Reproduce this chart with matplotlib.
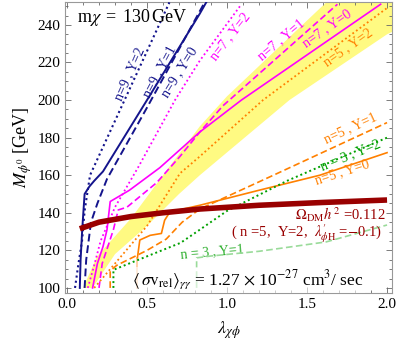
import matplotlib
matplotlib.use('Agg')
import matplotlib.pyplot as plt
import numpy as np
from matplotlib.ticker import MultipleLocator

plt.rcParams['font.family'] = ['Liberation Serif', 'DejaVu Serif']
plt.rcParams['mathtext.fontset'] = 'stix'

#Colours
navy = '#14148C'
mag = '#FF00FF'
orange = '#FF8000'
green = '#00A000'
lgreen = '#9ADB9A'
lorange = '#FFC896'
dred = '#990000'
yellow = '#FFFA82'

#Yellow band (n=5, Y=2 with varying lambda'_phiH)
band_up_x = [0.10, 0.19, 0.40, 0.60, 0.83, 1.00, 1.62, 2.05]
band_up_y = [100, 117, 137, 160, 186, 202, 252, 252]
band_lo_x = [0.16, 0.30, 0.50, 0.70, 0.83, 1.39, 2.00, 2.05]
band_lo_y = [100, 118, 133, 150, 160, 200, 235, 237]

#n=9 curves
n9y0_x = [0.08, 0.085, 0.095, 0.11, 0.14, 0.17, 0.225, 0.50, 0.83, 0.87]
n9y0_y = [100, 115, 131, 150, 154, 157, 162, 200, 246, 252]
n9y1_x = [0.11, 0.12, 0.15, 0.19, 0.25, 0.50, 0.86]
n9y1_y = [100, 115, 135, 145, 158, 196, 252]
n9y2_x = [0.05, 0.07, 0.094, 0.11, 0.144, 0.64]
n9y2_y = [100, 112, 125, 141, 160, 252]

#n=7 curves
n7y0_x = [0.16, 0.19, 0.225, 0.25, 0.27, 0.32, 0.39, 0.58, 0.83, 1.09, 1.96]
n7y0_y = [100, 113, 122, 131, 146, 148.5, 152, 164, 183, 200, 251]
n7y1_x = [0.20, 0.22, 0.29, 0.32, 0.375, 0.56, 0.706, 0.83, 0.975, 1.69]
n7y1_y = [100, 113, 131, 141.5, 143, 156, 170, 183, 197, 251]
n7y2_x = [0.13, 0.17, 0.21, 0.30, 0.45, 0.675, 0.83, 1.09]
n7y2_y = [100, 112, 125, 143, 165, 200, 221, 251]

#n=5 curves
n5y2_x = [0.17, 0.30, 0.50, 0.706, 0.83, 1.225, 2.00]
n5y2_y = [100, 113, 133, 161, 170, 200, 249]
n5y1_x = [0.27, 0.27, 0.31, 0.50, 0.62, 0.72, 0.83, 1.29, 2.00]
n5y1_y = [100, 109, 112, 120, 126, 135, 142, 160, 188]
n5y0_stub_x = [0.44, 0.44]
n5y0_stub_y = [100, 116]
n5y0_x = [0.44, 0.455, 0.52, 0.59, 0.61, 0.625, 0.64, 0.70, 0.83, 1.20, 1.58, 2.00]
n5y0_y = [116, 125.5, 128, 129, 136, 138, 140, 141.5, 144, 152, 160, 172]

#n=3 curves
n3y2_x = [0.29, 0.29, 0.33, 0.52, 0.71, 0.83, 1.00, 1.375, 2.00]
n3y2_y = [100, 109.6, 111, 117.5, 124, 131, 141, 157, 180]
n3y1_x = [0.81, 0.81, 0.90, 1.20, 1.62, 2.00]
n3y1_y = [100, 116, 117, 119.5, 124.5, 133.5]

#Relic density line
relic_x = [0.08, 0.20, 0.40, 0.60, 0.83, 1.20, 1.60, 2.00]
relic_y = [131.5, 135, 138, 140, 142, 144, 145.5, 146.8]

fig = plt.figure(figsize=(3.99, 3.5), dpi=100)
ax = fig.add_axes([65/399, 1-293/350, 327/399, 291/350])

#Band polygon
bx = band_up_x + band_lo_x[::-1]
by = band_up_y + band_lo_y[::-1]
ax.fill(bx, by, color=yellow, lw=0, zorder=1)

ax.plot(n9y0_x, n9y0_y, color=navy, lw=1.4, zorder=3)
ax.plot(n9y1_x, n9y1_y, color=navy, lw=1.4, ls=(0, (4, 2)), zorder=3)
ax.plot(n9y2_x, n9y2_y, color=navy, lw=1.5, ls=(0, (1, 1.5)), zorder=3)

ax.plot(n7y0_x, n7y0_y, color=mag, lw=1.2, zorder=3)
ax.plot(n7y1_x, n7y1_y, color=mag, lw=1.2, ls=(0, (4, 2)), zorder=3)
ax.plot(n7y2_x, n7y2_y, color=mag, lw=1.3, ls=(0, (1, 1.5)), zorder=3)

ax.plot(n5y2_x, n5y2_y, color=orange, lw=1.3, ls=(0, (1, 1.5)), zorder=3)
ax.plot(n5y1_x, n5y1_y, color=orange, lw=1.2, ls=(0, (4, 2)), zorder=3)
ax.plot(n5y0_stub_x, n5y0_stub_y, color=lorange, lw=1.2, zorder=3)
ax.plot(n5y0_x, n5y0_y, color=orange, lw=1.2, zorder=3)

ax.plot(n3y2_x, n3y2_y, color=green, lw=1.4, ls=(0, (1, 1.5)), zorder=3)
ax.plot(n3y1_x, n3y1_y, color=lgreen, lw=1.2, ls=(0, (4, 2)), zorder=3)

ax.plot(relic_x, relic_y, color=dred, lw=4, solid_capstyle='butt', zorder=4)

#Labels
fs = 10
ax.text(0.06, 243.7, r'm$\chi\,$ = $\,$130$\,$GeV', fontsize=13, ha='left', va='center')
ax.text(0.394, 214, 'n=9 , Y=2', color=navy, fontsize=fs, rotation=66, ha='center', va='center')
ax.text(0.58, 215, 'n=9 , Y=1', color=navy, fontsize=fs, rotation=62, ha='center', va='center')
ax.text(0.70, 215, 'n=9 , Y=0', color=navy, fontsize=fs, rotation=58, ha='center', va='center')
ax.text(1.02, 233.6, 'n=7 , Y=2', color=mag, fontsize=fs, rotation=52, ha='center', va='center')
ax.text(1.34, 232, 'n=7 , Y=1', color=mag, fontsize=fs, rotation=40, ha='center', va='center')
ax.text(1.625, 238, 'n=7 , Y=0', color=mag, fontsize=fs, rotation=35, ha='center', va='center')
ax.text(1.756, 228, 'n=5 , Y=2', color=orange, fontsize=fs, rotation=35, ha='center', va='center')
ax.text(1.77, 185, 'n=5 , Y=1', color=orange, fontsize=fs, rotation=25, ha='center', va='center')
ax.text(1.72, 161.7, 'n=5 , Y=0', color=orange, fontsize=fs, rotation=18, ha='center', va='center')
ax.text(1.77, 170.8, 'n = 3 , Y=2', color=green, fontsize=fs, rotation=22, ha='center', va='center', zorder=2)
ax.text(0.906, 119, 'n = 3 , Y=1', color='#30B030', fontsize=fs, rotation=5, ha='center', va='center', zorder=2)
ax.text(1.706, 139.2, r'$\Omega_{\rm DM}h^{\,2}$ =0.112', color=dred, fontsize=10.5, ha='center', va='center')
ax.text(1.494, 128.8, r"( n =5,  Y=2,  $\lambda^{\prime}_{\phi\rm H}$ =$-$0.1)", color=dred, fontsize=10.5, ha='center', va='center')
ax.text(1.13, 104.3, r'$\langle\,\sigma{\rm v}_{\rm rel}\rangle_{\gamma\gamma}$ = 1.27 $\times$ 10$^{-27}$ cm$^3$/ sec',
        fontsize=12.5, ha='center', va='center', zorder=5,
        bbox=dict(facecolor='white', alpha=0.6, edgecolor='none', pad=1))

#Axes
ax.set_xlim(-0.0125, 2.031)
ax.set_ylim(97.3, 252.2)
ax.xaxis.set_major_locator(MultipleLocator(0.5))
ax.xaxis.set_minor_locator(MultipleLocator(0.1))
ax.yaxis.set_major_locator(MultipleLocator(20))
ax.yaxis.set_minor_locator(MultipleLocator(5))
ax.set_xticks([0, 0.5, 1.0, 1.5, 2.0])
ax.set_xticklabels(['0.0', '0.5', '1.0', '1.5', '2.0'])
ax.tick_params(which='both', direction='in', top=True, right=True, labelsize=11, color='#666666', width=0.6)
ax.tick_params(which='major', length=4)
ax.tick_params(which='minor', length=2)
for s in ax.spines.values():
    s.set_color('#999999')
    s.set_linewidth(0.8)
ax.set_xlabel(r'$\lambda_{\chi\phi}$', fontsize=13, labelpad=6)
ax.set_ylabel(r'$M_{\phi^0}$ [GeV]', fontsize=13, labelpad=2)

fig.savefig('out.png', dpi=100)
